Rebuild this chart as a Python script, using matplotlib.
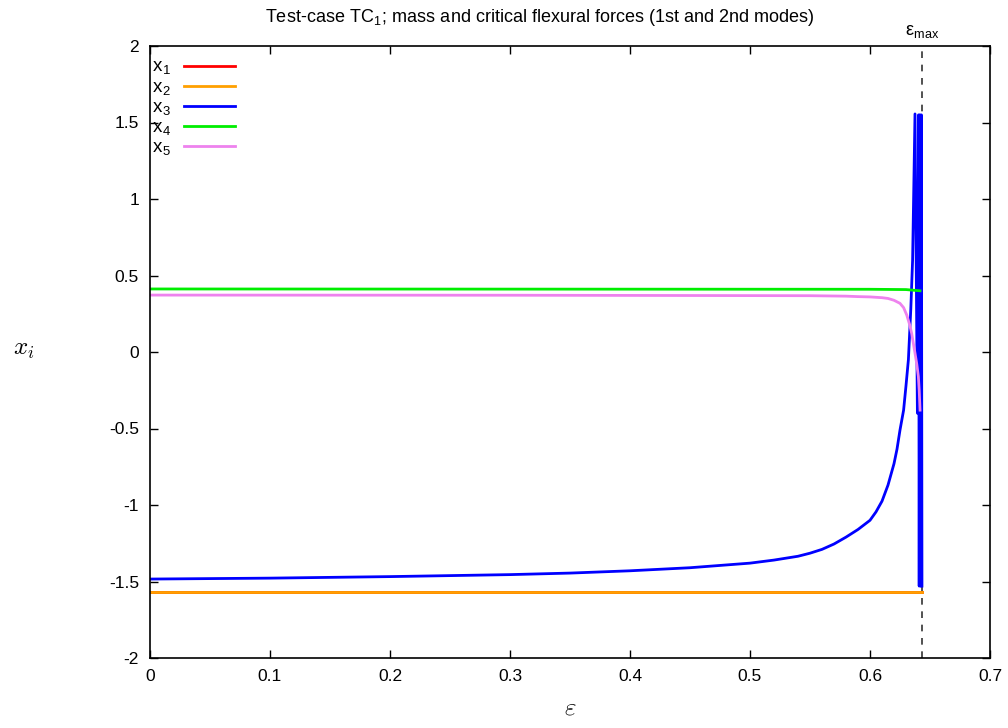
import numpy as np
import matplotlib
matplotlib.use("Agg")
import matplotlib.pyplot as plt

plt.rcParams['font.family'] = ['Liberation Sans', 'DejaVu Sans']
plt.rcParams['mathtext.fontset'] = 'cm'

# values
eps_max = 0.6433

eps_flat = [0.0, 0.6433]
x1_vals = [-1.5708, -1.5708]
x2_vals = [-1.5708, -1.5708]

eps_x3 = [0.0, 0.1, 0.2, 0.3, 0.35, 0.4, 0.45, 0.5, 0.52, 0.54, 0.55, 0.56, 0.57, 0.58, 0.585,
          0.59, 0.595, 0.60, 0.605, 0.61, 0.615, 0.62, 0.6225, 0.625, 0.628, 0.630, 0.632,
          0.634, 0.6355, 0.6375,
          0.6395, 0.6405, 0.6410, 0.6416, 0.6422, 0.6428, 0.6433]
x3_vals = [-1.484, -1.478, -1.468, -1.455, -1.445, -1.43, -1.41, -1.38, -1.36, -1.335, -1.315,
           -1.29, -1.255, -1.21, -1.185, -1.16, -1.13, -1.10, -1.045, -0.975, -0.87, -0.73,
           -0.635, -0.51, -0.38, -0.22, -0.05, 0.28, 0.60, 1.556,
           -0.40, 1.55, -1.53, 1.55, -1.53, 1.55, -1.53]

eps_x4 = [0.0, 0.3, 0.6, 0.63, 0.6417]
x4_vals = [0.412, 0.411, 0.410, 0.408, 0.40]

eps_x5 = [0.0, 0.3, 0.55, 0.58, 0.59, 0.60, 0.61, 0.615, 0.62, 0.625, 0.628, 0.6306,
          0.633, 0.6347, 0.6375, 0.639, 0.6403, 0.641, 0.6417]
x5_vals = [0.372, 0.371, 0.368, 0.365, 0.362, 0.360, 0.355, 0.350, 0.338, 0.318, 0.29, 0.242,
           0.18, 0.122, -0.007, -0.08, -0.16, -0.25, -0.38]

fig = plt.figure(figsize=(10.08, 7.28), dpi=100)
ax = fig.add_axes([150/1008, 1 - 658/728, 840/1008, 612/728])

lw = 2.0
ax.plot(eps_flat, x1_vals, color='#ff0000', lw=lw, label=r'x$_\mathregular{1}$')
ax.plot(eps_flat, x2_vals, color='#ffa000', lw=lw, label=r'x$_\mathregular{2}$')
ax.plot(eps_x3, x3_vals, color='#0000ff', lw=lw, label=r'x$_\mathregular{3}$')
ax.plot(eps_x4, x4_vals, color='#00ee00', lw=lw, label=r'x$_\mathregular{4}$')
ax.plot(eps_x5, x5_vals, color='#ee82ee', lw=lw, label=r'x$_\mathregular{5}$')

ax.axvline(eps_max, color='#333333', lw=1.2, ls=(0, (4, 4)), zorder=0)
ax.text(eps_max, 2.03, r'ε$_{\mathregular{max}}$', ha='center', va='bottom', fontsize=13)

ax.set_xlim(0, 0.7)
ax.set_ylim(-2, 2)
ax.set_xticks(np.arange(0, 0.71, 0.1))
ax.set_xticklabels(['0', '0.1', '0.2', '0.3', '0.4', '0.5', '0.6', '0.7'])
ax.set_yticks([-2, -1.5, -1, -0.5, 0, 0.5, 1, 1.5, 2])
ax.set_yticklabels(['-2', '-1.5', '-1', '-0.5', '0', '0.5', '1', '1.5', '2'])
ax.tick_params(direction='in', length=6, width=1, top=True, right=True,
               labelsize=12.5, pad=8)
for s in ax.spines.values():
    s.set_linewidth(1.2)

ax.set_xlabel(r'$\varepsilon$', fontsize=18, labelpad=8)
ax.set_ylabel(r'$x_i$', fontsize=18, rotation=0, labelpad=0)
ax.yaxis.set_label_coords(-0.15, 0.485)

fig.text(540/1008, 1 - 17/728,
         r'Test-case TC$_\mathregular{1}$; mass and critical flexural forces (1st and 2nd modes)',
         ha='center', va='center', fontsize=13)

ax.legend(loc='upper left', bbox_to_anchor=(2/840, 1 - 13/612), markerfirst=False,
          frameon=False, fontsize=13.5, handlelength=2.7, labelspacing=0.1,
          borderaxespad=0.0, borderpad=0.0, handletextpad=0.7)

fig.savefig('out.png', dpi=100)
